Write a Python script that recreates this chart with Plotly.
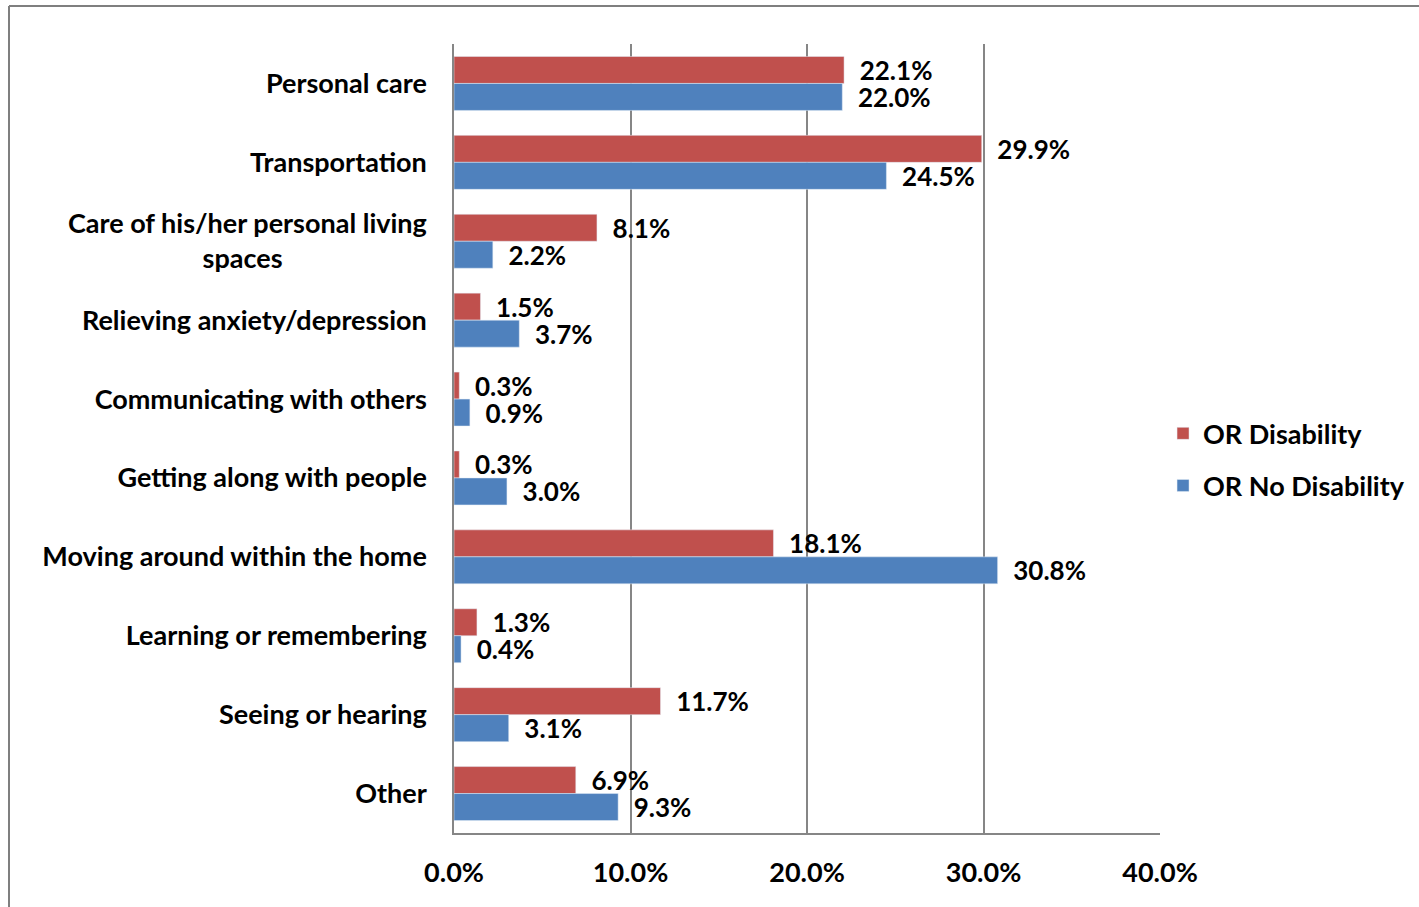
import plotly.graph_objects as go

NB = "\u00a0"
categories = ["Personal care", "Transportation",
              "Care of his/her personal living<br>spaces" + NB * 22,
              "Relieving anxiety/depression", "Communicating with others",
              "Getting along with people", "Moving around within the home",
              "Learning or remembering", "Seeing or hearing", "Other"]
disability = [22.1, 29.9, 8.1, 1.5, 0.3, 0.3, 18.1, 1.3, 11.7, 6.9]
no_disability = [22.0, 24.5, 2.2, 3.7, 0.9, 3.0, 30.8, 0.4, 3.1, 9.3]
x_ticks = [0, 10, 20, 30, 40]
x_tick_labels = ["0.0%", "10.0%", "20.0%", "30.0%", "40.0%"]

FONT = "Lato, 'Open Sans', sans-serif"
LABEL_FONT = dict(family=FONT, size=26, color="black", weight="bold")

def lbl(vals):
    return [NB + NB + f"{v:.1f}%" for v in vals]

fig = go.Figure()
fig.add_trace(go.Bar(
    y=categories, x=disability, orientation="h", name="OR Disability",
    marker=dict(color="#C0504D"), text=lbl(disability), textposition="outside",
    textfont=LABEL_FONT, constraintext="none", cliponaxis=False, legendgroup="a"))
fig.add_trace(go.Bar(
    y=categories, x=no_disability, orientation="h", name="OR No Disability",
    marker=dict(color="#4F81BD"), text=lbl(no_disability), textposition="outside",
    textfont=LABEL_FONT, constraintext="none", cliponaxis=False, legendgroup="b"))

fig.update_layout(
    width=1419, height=907,
    margin=dict(l=454, r=259, t=44, b=74, autoexpand=False),
    paper_bgcolor="white", plot_bgcolor="white",
    barmode="group", bargap=0.316, bargroupgap=0,
    font=dict(family=FONT, size=27, color="black", weight="bold"),
    legend=dict(x=1.0043, y=0.473, xanchor="left", yanchor="middle",
                font=dict(family=FONT, size=27, color="black", weight="bold"),
                tracegroupgap=14, traceorder="grouped", itemwidth=30),
    showlegend=True,
)
fig.update_xaxes(range=[0, 40], tickvals=x_ticks, ticktext=x_tick_labels,
                 showgrid=True, gridcolor="#868686", gridwidth=1.5,
                 showline=True, linecolor="#868686", linewidth=1.5,
                 zeroline=False, ticks="", ticklabelstandoff=15,
                 tickfont=dict(family=FONT, size=27, color="black", weight="bold"))
fig.update_yaxes(autorange="reversed", showgrid=False, zeroline=False,
                 showline=True, linecolor="#868686", linewidth=1.5,
                 ticks="", ticklabelstandoff=20,
                 tickfont=dict(family=FONT, size=27, color="black", weight="bold"))

# chart border (decoration)
fig.add_shape(type="line", xref="paper", yref="paper",
              x0=(9 - 454) / 706, x1=(1419 - 454) / 706,
              y0=(833 - 6) / 789, y1=(833 - 6) / 789,
              line=dict(color="#7F7F7F", width=2))
fig.add_shape(type="line", xref="paper", yref="paper",
              x0=(9 - 454) / 706, x1=(9 - 454) / 706,
              y0=(833 - 6) / 789, y1=(833 - 910) / 789,
              line=dict(color="#7F7F7F", width=2))

fig.write_html("out.html", config={"displayModeBar": False},
               post_script="document.body.style.margin='0px';")
